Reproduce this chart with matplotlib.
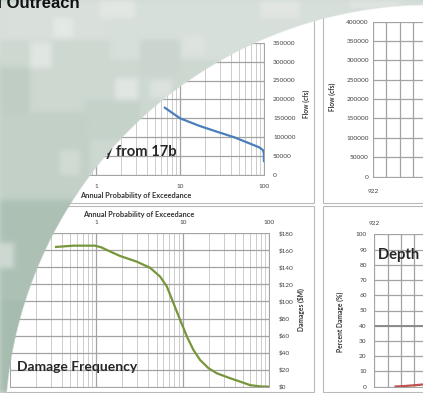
import numpy as np
import matplotlib.pyplot as plt
from matplotlib.patches import Rectangle
from matplotlib.ticker import LogLocator, NullFormatter

W, H = 423, 393

# flow frequency from bulletin 17b (annual exceedance probability %, flow cfs)
flow_prob = [6.6, 10, 17, 28, 44, 70, 88, 97, 99.5, 99.9]
flow_cfs = [178000, 150000, 130000, 114000, 100000, 82000, 73000, 66000, 58000, 37000]

# damage frequency (probability %, damages $M)
dmg_prob = [0.345, 0.55, 0.97, 1.15, 1.33, 1.89, 2.95, 4.21, 5.5, 6.57, 7.83, 9.35,
            11.2, 13.3, 15.9, 19.9, 24.8, 35.4, 46.2, 60.3, 80, 100]
dmg_musd = [164, 165.5, 165.5, 163.5, 160.4, 153.4, 146.7, 139.5, 129, 117.4, 97.9, 78.3,
            58.7, 43.1, 31.3, 21.6, 15.7, 9.9, 5.9, 1.8, 0.3, 0]

# depth damage (stage ft, percent damage)
dd_stage = [923.6, 924.2, 924.8, 925.6, 926.6]
dd_pct = [0.1, 0.4, 0.8, 1.4, 2.3]

flow_ticks = list(range(0, 350001, 50000))
flow_ticks2 = list(range(0, 400001, 50000))
dmg_ticks = list(range(0, 181, 20))
dmg_labels = ['$%d' % v for v in dmg_ticks]
pct_ticks = list(range(0, 101, 10))
prob_ticks = [1, 10, 100]
stage_ticks = [922, 923, 924, 925]
stage_labels = ['922', '', '', '']

fig = plt.figure(figsize=(W / 100, H / 100), dpi=100)
plt.rcParams['font.family'] = ['Lato', 'DejaVu Sans']

TXT = '#404040'
GRID = '#a3a3a3'
MINOR = '#c4c4c4'


def px_axes(x0, y0, x1, y1, z=2):
    return fig.add_axes([x0 / W, 1 - y1 / H, (x1 - x0) / W, (y1 - y0) / H], zorder=z)


def style(ax):
    for s in ax.spines.values():
        s.set_color(GRID)
        s.set_linewidth(0.7)
    ax.tick_params(which='both', length=0, labelsize=4.6, labelcolor=TXT)
    ax.grid(True, which='major', color=GRID, lw=0.9)
    ax.grid(True, which='minor', color=MINOR, lw=0.6)
    ax.set_axisbelow(True)


# panel frames in pixel coordinates
bg = fig.add_axes([0, 0, 1, 1], zorder=0)
bg.set_xlim(0, W)
bg.set_ylim(H, 0)
bg.axis('off')
for x0, y0, x1, y1 in [(-10, -10, 314, 202.5), (323, -10, 440, 202.5),
                       (-10, 206, 314, 392), (323, 206, 440, 392)]:
    bg.add_patch(Rectangle((x0, y0), x1 - x0, y1 - y0, facecolor='white',
                           edgecolor='#b9b9b9', lw=0.8))

# flow frequency
ax1 = px_axes(12, 42.7, 264, 175)
ax1.set_xscale('log')
ax1.set_xlim(0.1, 100)
ax1.set_ylim(0, 350000)
ax1.set_xticks(prob_ticks)
ax1.set_xticklabels([str(v) for v in prob_ticks])
ax1.xaxis.set_minor_locator(LogLocator(subs=range(2, 10)))
ax1.xaxis.set_minor_formatter(NullFormatter())
ax1.set_yticks(flow_ticks)
ax1.set_yticklabels([str(v) for v in flow_ticks])
ax1.yaxis.tick_right()
style(ax1)
ax1.tick_params(axis='y', pad=6.5)
ax1.tick_params(axis='x', pad=6.5)
ax1.plot(flow_prob, flow_cfs, color='#4a7ebb', lw=1.6)
ax1.text(0.655, 0.175, 'Flow Frequency from 17b', transform=ax1.transAxes, ha='right',
         va='center', fontsize=10.6, fontweight='bold', color='#262626')

# stage vs flow
ax2 = px_axes(373, 21.5, 423, 176.7)
ax2.set_xlim(922, 922 + 50 / 13.4)
ax2.set_ylim(0, 400000)
ax2.set_xticks(stage_ticks)
ax2.set_xticklabels(stage_labels)
ax2.set_yticks(flow_ticks2)
ax2.set_yticklabels([str(v) for v in flow_ticks2])
style(ax2)
ax2.spines['right'].set_visible(False)
ax2.tick_params(axis='y', pad=3)
ax2.tick_params(axis='x', pad=8.5)

# damage frequency
ax3 = px_axes(9.5, 233.3, 269.3, 386.7)
ax3.set_xscale('log')
ax3.set_xlim(0.1, 100)
ax3.set_ylim(0, 180)
ax3.set_xticks(prob_ticks)
ax3.set_xticklabels([str(v) for v in prob_ticks])
ax3.xaxis.set_minor_locator(LogLocator(subs=range(2, 10)))
ax3.xaxis.set_minor_formatter(NullFormatter())
ax3.xaxis.tick_top()
ax3.set_yticks(dmg_ticks)
ax3.set_yticklabels(dmg_labels)
ax3.yaxis.tick_right()
style(ax3)
ax3.tick_params(axis='y', pad=6.5)
ax3.tick_params(axis='x', pad=5.7)
ax3.plot(dmg_prob, dmg_musd, color='#77963a', lw=1.6)
ax3.text(0.03, 0.13, 'Damage Frequency', transform=ax3.transAxes, ha='left',
         va='center', fontsize=10, fontweight='bold', color='#262626')

# depth damage
ax4 = px_axes(374.3, 234.3, 423, 386.7)
ax4.set_xlim(922, 922 + 48.7 / 13.3)
ax4.set_ylim(0, 100)
ax4.set_xticks(stage_ticks)
ax4.set_xticklabels(stage_labels)
ax4.xaxis.tick_top()
ax4.set_yticks(pct_ticks)
style(ax4)
ax4.spines['right'].set_visible(False)
ax4.tick_params(axis='y', pad=5.5)
ax4.tick_params(axis='x', pad=6)
ax4.axhline(40, color='#8c8c8c', lw=1.4, zorder=1)
ax4.plot(dd_stage, dd_pct, color='#c0504d', lw=1.6)
ax4.text(0.08, 0.865, 'Depth Damage', transform=ax4.transAxes, ha='left',
         va='center', fontsize=10.6, fontweight='bold', color='#262626', clip_on=False)

# axis titles
lab = dict(fontsize=5.3, fontweight='bold', color='#333333', ha='center', va='center')
bg.text(136, 195.5, 'Annual Probability of Exceedance', **lab)
bg.text(138.5, 214, 'Annual Probability of Exceedance', **lab)
lab['fontsize'] = 4.8
bg.text(306, 104, 'Flow (cfs)', rotation=90, **lab)
bg.text(332, 97, 'Flow (cfs)', rotation=90, **lab)
bg.text(301, 310, 'Damages ($M)', rotation=90, **lab)
bg.text(340, 322, 'Percent Damage (%)', rotation=90, **lab)

# camouflage backdrop outside the white disc
camo = np.zeros((H, W, 3))
camo[:] = np.array([0xcd, 0xd8, 0xd1]) / 255
blocks = [
    ((0, 0, 110, 40), '#d9e0dc'), ((110, 0, 423, 60), '#d7dfda'),
    ((0, 67, 30, 112), '#c0cdc5'), ((0, 112, 90, 200), '#c3d0c8'),
    ((85, 100, 140, 140), '#c5d2ca'), ((140, 40, 180, 75), '#c9d5ce'),
    ((0, 200, 75, 393), '#adc1b5'), ((0, 300, 40, 393), '#a7bcb0'),
    ((53, 18, 73, 38), '#e3e9e5'), ((30, 42, 52, 68), '#e0e6e2'),
    ((115, 78, 138, 100), '#e0e6e2'), ((150, 80, 172, 98), '#dce3df'),
    ((183, 35, 205, 55), '#dde4e0'), ((100, 0, 135, 18), '#e2e7e4'),
    ((0, 243, 14, 268), '#cdd9d2'), ((60, 150, 80, 175), '#d0dbd4'),
    ((260, 0, 300, 18), '#e1e6e3'), ((350, 0, 400, 8), '#e0e5e2'),
]
for (x0, y0, x1, y1), c in blocks:
    camo[y0:y1, x0:x1] = [int(c[i:i + 2], 16) / 255 for i in (1, 3, 5)]
for _ in range(3):
    camo = sum(np.roll(np.roll(camo, dy, 0), dx, 1)
               for dy in (-2, -1, 0, 1, 2) for dx in (-2, -1, 0, 1, 2)) / 25
yy, xx = np.mgrid[0:H, 0:W] + 0.5
dist = np.hypot(xx - 431, yy - 431)
alpha = np.clip((dist - 426) / 1.5 + 0.5, 0, 1)
rgba = np.dstack([camo, alpha])

ov = fig.add_axes([0, 0, 1, 1], zorder=20)
ov.imshow(rgba, extent=(0, W, H, 0), interpolation='bilinear')
ov.set_xlim(0, W)
ov.set_ylim(H, 0)
ov.axis('off')
ov.text(80, 7.5, 'Technical Outreach', ha='right', va='baseline', fontsize=12,
        fontweight='bold', family='Liberation Sans', color='#111111')

fig.savefig('out.png', dpi=100)
